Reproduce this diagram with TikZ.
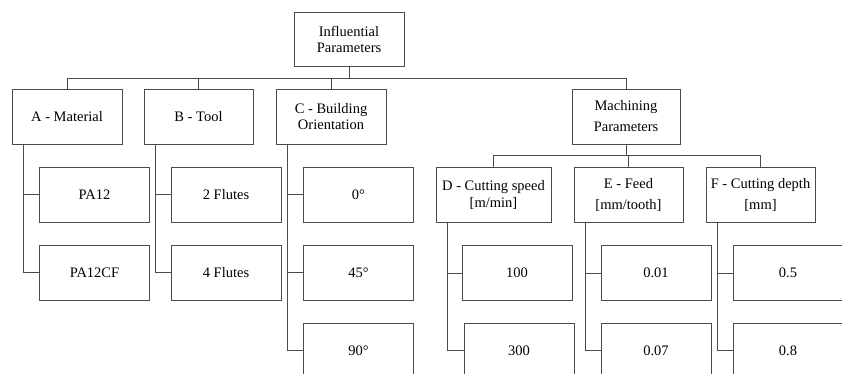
\documentclass[tikz,border=0pt]{standalone}
\usepackage{fontspec}
\setmainfont{Liberation Serif}
\usetikzlibrary{positioning}

\begin{document}
\begin{tikzpicture}[x=1pt, y=-1pt,
  box/.style={draw=black!70, line width=0.9pt, rectangle, minimum width=110pt,
    minimum height=55pt, align=center, inner sep=1pt,
    font=\fontsize{14.5}{16}\selectfont},
  widebox/.style={box, font=\fontsize{14.5}{21}\selectfont},
  link/.style={draw=black!70, line width=0.9pt}]
  \path[use as bounding box, clip] (0,0) rectangle (842,374);
  % Root
  \node[box, minimum height=54pt] (root) at (349,39) {Influential\\Parameters};
  % Parameter groups
  \node[box] (A) at (67,116.5) {A - Material};
  \node[box, minimum width=109pt] (B) at (198.5,116.5) {B - Tool};
  \node[box] (C) at (331,116.5) {C - Building\\Orientation};
  \node[widebox, minimum width=108pt] (M) at (626,116.5) {Machining\\Parameters};
  % Machining parameters
  \node[box, minimum width=115pt, font=\fontsize{14.5}{17}\selectfont] (D) at (493.5,194.5) {D - Cutting speed\\{[m/min]}};
  \node[widebox, minimum width=109pt] (E) at (628.5,194.5) {E - Feed\\{[mm/tooth]}};
  \node[widebox, minimum width=109pt] (F) at (760.5,194.5) {F - Cutting depth\\{[mm]}};
  % Levels
  \foreach \name/\x/\y/\txt in {pa12/94.5/194.5/PA12, pa12cf/94.5/272.5/PA12CF,
      fl2/226/194.5/2 Flutes, fl4/226/272.5/4 Flutes,
      o0/358.5/194.5/0°, o45/358.5/272.5/45°, o90/358.5/350.5/90°,
      d100/517/273/100, d300/519/350.5/300,
      e001/656/273/0.01, e007/656/350.5/0.07,
      f05/788/273/0.5, f08/788/350.5/0.8} {
    \node[box] (\name) at (\x,\y) {\txt};
  }

  \coordinate (bus) at (349,78);
  \coordinate (mbus) at (626,155);
  \draw[link] (root.south) -- (bus);
  \foreach \n in {A,B,C,M} {
    \draw[link] (bus) -| (\n.north);
  }
  \draw[link] (M.south) -- (mbus);
  \foreach \n in {D,E,F} {
    \draw[link] (mbus) -| (\n.north);
  }
  \foreach \p/\c in {A/pa12, A/pa12cf, B/fl2, B/fl4, C/o0, C/o45, C/o90,
      D/d100, D/d300, E/e001, E/e007, F/f05, F/f08} {
    \draw[link] ([xshift=11.5pt]\p.south west) |- (\c.west);
  }
\end{tikzpicture}
\end{document}
